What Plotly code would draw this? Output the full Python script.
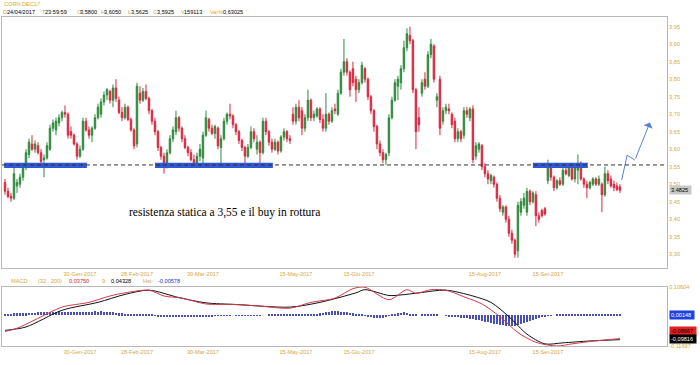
import plotly.graph_objects as go

# ---------------- data ----------------
opens = [3.505,3.480,3.465,3.460,3.495,3.500,3.520,3.550,3.585,3.615,
         3.600,3.610,3.590,3.570,3.575,3.600,3.660,3.655,3.675,3.690,
         3.705,3.700,3.650,3.640,3.615,3.580,3.600,3.680,3.655,3.640,
         3.660,3.690,3.700,3.735,3.755,3.765,3.740,3.775,3.740,3.705,
         3.690,3.720,3.685,3.655,3.615,3.760,3.740,3.765,3.745,3.710,
         3.680,3.650,3.605,3.580,3.560,3.590,3.630,3.650,3.690,3.660,
         3.630,3.605,3.590,3.570,3.560,3.580,3.575,3.640,3.685,3.660,
         3.645,3.660,3.605,3.630,3.680,3.700,3.695,3.670,3.650,3.625,
         3.605,3.580,3.605,3.650,3.600,3.620,3.590,3.680,3.650,3.620,
         3.600,3.620,3.595,3.635,3.650,3.630,3.700,3.680,3.720,3.710,
         3.660,3.690,3.740,3.690,3.695,3.715,3.685,3.660,3.700,3.680,
         3.715,3.700,3.760,3.820,3.850,3.820,3.830,3.800,3.770,3.790,
         3.830,3.800,3.750,3.710,3.665,3.615,3.590,3.570,3.590,3.690,
         3.740,3.780,3.790,3.830,3.890,3.925,3.910,3.770,3.690,3.760,
         3.800,3.780,3.870,3.895,3.740,3.800,3.680,3.710,3.715,3.700,
         3.680,3.630,3.650,3.640,3.710,3.690,3.715,3.580,3.600,3.610,
         3.550,3.530,3.510,3.520,3.500,3.460,3.420,3.435,3.400,3.360,
         3.340,3.310,3.420,3.440,3.420,3.480,3.450,3.470,3.410,3.425,
         3.430,3.510,3.550,3.520,3.490,3.510,3.500,3.540,3.525,3.545,
         3.515,3.540,3.560,3.515,3.500,3.490,3.500,3.515,3.500,3.500,
         3.470,3.530,3.515,3.500,3.495,3.4925]
highs = [3.515,3.490,3.475,3.550,3.515,3.530,3.560,3.600,3.630,3.640,
         3.625,3.620,3.600,3.585,3.620,3.670,3.685,3.690,3.700,3.710,
         3.725,3.705,3.665,3.645,3.620,3.610,3.690,3.690,3.665,3.665,
         3.700,3.730,3.745,3.765,3.775,3.770,3.785,3.800,3.750,3.720,
         3.730,3.725,3.690,3.660,3.790,3.780,3.775,3.785,3.750,3.715,
         3.690,3.655,3.610,3.590,3.600,3.640,3.665,3.710,3.695,3.665,
         3.640,3.610,3.600,3.585,3.590,3.615,3.650,3.710,3.690,3.670,
         3.670,3.665,3.640,3.690,3.705,3.730,3.700,3.675,3.655,3.630,
         3.610,3.615,3.665,3.660,3.640,3.625,3.690,3.690,3.655,3.630,
         3.630,3.625,3.640,3.660,3.655,3.640,3.720,3.730,3.740,3.720,
         3.700,3.770,3.745,3.710,3.720,3.720,3.700,3.760,3.705,3.720,
         3.730,3.770,3.830,3.915,3.860,3.825,3.850,3.810,3.800,3.850,
         3.835,3.805,3.755,3.715,3.670,3.625,3.600,3.590,3.700,3.750,
         3.800,3.810,3.840,3.910,3.945,3.950,3.915,3.775,3.720,3.800,
         3.820,3.880,3.915,3.900,3.760,3.810,3.720,3.730,3.730,3.705,
         3.690,3.660,3.655,3.720,3.720,3.720,3.725,3.620,3.620,3.615,
         3.560,3.540,3.530,3.525,3.505,3.470,3.440,3.440,3.410,3.370,
         3.345,3.450,3.460,3.475,3.490,3.485,3.480,3.480,3.420,3.430,
         3.435,3.570,3.555,3.525,3.515,3.520,3.550,3.560,3.555,3.550,
         3.560,3.585,3.565,3.520,3.510,3.510,3.520,3.520,3.525,3.505,
         3.550,3.540,3.525,3.510,3.505,3.500]
lows = [3.470,3.460,3.450,3.455,3.475,3.490,3.510,3.540,3.575,3.595,
        3.590,3.585,3.555,3.520,3.570,3.595,3.650,3.640,3.665,3.680,
        3.690,3.630,3.630,3.610,3.570,3.575,3.595,3.650,3.630,3.620,
        3.655,3.685,3.690,3.725,3.740,3.730,3.720,3.735,3.700,3.680,
        3.685,3.680,3.650,3.600,3.605,3.730,3.735,3.740,3.700,3.670,
        3.640,3.595,3.570,3.530,3.545,3.585,3.620,3.640,3.650,3.620,
        3.600,3.580,3.565,3.550,3.555,3.565,3.560,3.635,3.650,3.640,
        3.630,3.600,3.560,3.625,3.670,3.685,3.660,3.640,3.615,3.595,
        3.550,3.575,3.600,3.620,3.585,3.555,3.585,3.640,3.610,3.590,
        3.595,3.585,3.590,3.625,3.620,3.615,3.670,3.670,3.680,3.640,
        3.650,3.680,3.680,3.680,3.690,3.675,3.650,3.650,3.670,3.675,
        3.700,3.695,3.755,3.810,3.810,3.750,3.780,3.735,3.760,3.785,
        3.790,3.740,3.700,3.650,3.600,3.580,3.560,3.555,3.580,3.685,
        3.735,3.740,3.770,3.820,3.880,3.900,3.760,3.600,3.650,3.750,
        3.770,3.775,3.860,3.790,3.720,3.640,3.670,3.700,3.700,3.660,
        3.620,3.620,3.620,3.630,3.690,3.680,3.560,3.570,3.590,3.540,
        3.520,3.500,3.500,3.490,3.450,3.420,3.410,3.390,3.350,3.330,
        3.290,3.290,3.410,3.430,3.410,3.440,3.445,3.380,3.390,3.405,
        3.410,3.500,3.510,3.480,3.485,3.495,3.495,3.525,3.520,3.510,
        3.505,3.500,3.510,3.490,3.460,3.485,3.495,3.495,3.495,3.420,
        3.465,3.500,3.490,3.480,3.480,3.475]
closes = [3.480,3.465,3.460,3.530,3.505,3.520,3.550,3.590,3.620,3.600,
          3.615,3.590,3.565,3.575,3.610,3.660,3.675,3.680,3.690,3.705,
          3.700,3.640,3.640,3.615,3.580,3.600,3.680,3.655,3.640,3.660,
          3.690,3.720,3.735,3.755,3.770,3.740,3.775,3.745,3.705,3.690,
          3.720,3.685,3.655,3.610,3.780,3.740,3.765,3.745,3.710,3.680,
          3.650,3.605,3.580,3.560,3.590,3.630,3.655,3.690,3.660,3.630,
          3.605,3.590,3.570,3.560,3.580,3.600,3.640,3.690,3.660,3.645,
          3.665,3.610,3.630,3.680,3.700,3.695,3.670,3.650,3.625,3.605,
          3.580,3.605,3.650,3.630,3.620,3.590,3.680,3.650,3.620,3.600,
          3.620,3.595,3.635,3.650,3.630,3.625,3.680,3.720,3.690,3.660,
          3.690,3.740,3.690,3.700,3.715,3.685,3.660,3.700,3.680,3.710,
          3.710,3.760,3.820,3.850,3.820,3.770,3.790,3.770,3.790,3.840,
          3.800,3.750,3.710,3.665,3.615,3.590,3.570,3.585,3.690,3.740,
          3.790,3.800,3.830,3.890,3.930,3.910,3.770,3.650,3.670,3.790,
          3.780,3.870,3.900,3.800,3.750,3.660,3.710,3.720,3.710,3.670,
          3.630,3.650,3.630,3.710,3.700,3.715,3.570,3.610,3.615,3.550,
          3.530,3.515,3.525,3.500,3.460,3.430,3.435,3.400,3.360,3.340,
          3.300,3.440,3.450,3.460,3.480,3.450,3.475,3.410,3.400,3.410,
          3.415,3.555,3.520,3.490,3.510,3.500,3.540,3.530,3.550,3.515,
          3.555,3.560,3.515,3.500,3.490,3.505,3.515,3.500,3.515,3.470,
          3.530,3.510,3.495,3.490,3.485,3.4825]

date_tick_pos = [25, 44, 66, 97, 118, 160, 181]
date_tick_labels = ["30-Gen-2017", "28-Feb-2017", "30-Mar-2017", "15-May-2017",
                    "15-Giu-2017", "15-Aug-2017", "15-Set-2017"]
price_ticks = [3.30, 3.35, 3.40, 3.45, 3.50, 3.55, 3.60, 3.65, 3.70, 3.75, 3.80, 3.85, 3.90, 3.95]
price_tick_labels = ["3,30", "3,35", "3,40", "3,45", "3,50", "3,55", "3,60", "3,65",
                     "3,70", "3,75", "3,80", "3,85", "3,90", "3,95"]

resistance_level = 3.555
support_zones = [(-0.3, 27.3), (50.0, 89.3), (176.0, 194.3)]   # bar index spans
arrow_idx = [205.6, 207.4, 210.0, 215.0]
arrow_price = [3.512, 3.583, 3.569, 3.676]

macd_idx = [0,4,10,19,28,35,40,48,53,59,67,76,85,95,102,110,116,120,128,134,137,142,147,153,159,165,171,177,184,189,195,205]
macd_val = [-0.062,-0.050,-0.018,0.030,0.048,0.072,0.084,0.094,0.072,0.064,0.042,0.040,0.034,0.026,0.048,0.064,
            0.100,0.105,0.058,0.096,0.082,0.096,0.094,0.069,0.042,-0.006,-0.066,-0.103,-0.117,-0.109,-0.100,-0.089]
signal_idx = [0,7,19,31,40,48,58,67,77,95,105,117,120,128,132,138,147,156,162,168,174,180,186,195,205]
signal_val = [-0.058,-0.045,0.018,0.048,0.078,0.094,0.066,0.046,0.040,0.030,0.048,0.084,0.096,0.074,0.076,
              0.084,0.094,0.072,0.048,-0.006,-0.072,-0.109,-0.105,-0.098,-0.093]
hist_val = [0.004,0.005,0.005,0.006,0.006,0.007,0.006,0.007,0.008,0.008,
            0.009,0.010,0.010,0.011,0.012,0.012,0.013,0.013,0.014,0.013,
            0.012,0.012,0.011,0.012,0.011,0.012,0.012,0.013,0.012,0.013,
            0.014,0.013,0.014,0.013,0.012,0.011,0.010,0.009,0.007,0.006,
            0.005,0.004,0.004,0.003,0.003,0.002,0.001,0.001,0.002,0.001,
            -0.002,-0.004,-0.005,-0.006,-0.007,-0.008,-0.008,-0.009,-0.008,-0.009,
            -0.008,-0.008,-0.009,-0.008,-0.007,-0.007,-0.006,-0.006,-0.005,-0.004,
            -0.003,-0.003,-0.002,-0.003,-0.002,-0.001,0.000,-0.001,-0.002,-0.002,
            -0.003,-0.002,-0.003,-0.002,-0.001,-0.001,0.000,0.000,0.001,0.001,
            0.002,0.002,0.003,0.003,0.004,0.004,0.003,0.004,0.004,0.003,
            0.004,0.004,0.005,0.004,0.005,0.006,0.008,0.011,0.013,0.015,
            0.014,0.015,0.013,0.012,0.010,0.008,0.006,0.004,0.003,0.001,
            -0.002,-0.005,-0.008,-0.011,-0.013,-0.012,-0.010,-0.006,-0.002,0.001,
            0.003,0.006,0.009,0.010,0.008,0.005,0.002,0.001,0.000,0.001,
            0.002,0.001,0.002,0.001,0.001,0.000,0.000,-0.002,-0.004,-0.006,
            -0.008,-0.009,-0.011,-0.012,-0.013,-0.014,-0.016,-0.018,-0.020,-0.022,
            -0.025,-0.027,-0.030,-0.032,-0.035,-0.037,-0.039,-0.040,-0.042,-0.041,
            -0.040,-0.038,-0.035,-0.031,-0.027,-0.023,-0.019,-0.015,-0.011,-0.008,
            -0.005,-0.003,-0.001,0.000,0.001,0.002,0.002,0.003,0.003,0.003,
            0.004,0.003,0.004,0.004,0.003,0.003,0.002,0.003,0.002,0.002,
            0.002,0.001,0.002,0.001,0.002,0.001]
macd_range = [-0.11697, 0.10604]
macd_tick_labels = ["-0,11697", "0,10604"]

# ---------------- styling ----------------
W, H = 700, 365
GOLD = "#d6a83a"
GREEN = "#2f8a3c"
RED = "#d7283f"
HBLUE = "#4a4fb4"
ARROW = "#5b7fd6"
FRAME = "#b8b8b8"
FONT = "Liberation Sans"
FS = 5.6

def xp(px):
    return px / W

def yp(px):
    return 1 - px / H

idx = list(range(len(closes)))
x_range = [-1.0, 220.7]

fig = go.Figure()
fig.add_trace(go.Candlestick(
    x=idx, open=opens, high=highs, low=lows, close=closes,
    increasing=dict(line=dict(color=GREEN, width=1), fillcolor=GREEN),
    decreasing=dict(line=dict(color=RED, width=1), fillcolor=RED),
    whiskerwidth=0, showlegend=False, hoverinfo="skip",
    xaxis="x", yaxis="y"))

fig.add_trace(go.Scatter(x=arrow_idx[:-1], y=arrow_price[:-1], mode="lines",
                         line=dict(color=ARROW, width=1), showlegend=False,
                         hoverinfo="skip", xaxis="x", yaxis="y"))

fig.add_trace(go.Bar(x=list(range(len(hist_val))), y=hist_val, width=0.3,
                     marker=dict(color=HBLUE, line=dict(width=0)),
                     showlegend=False, hoverinfo="skip", xaxis="x2", yaxis="y2"))
fig.add_trace(go.Scatter(x=signal_idx, y=signal_val, mode="lines",
                         line=dict(color="#111111", width=1, shape="spline", smoothing=0.8),
                         showlegend=False, hoverinfo="skip", xaxis="x2", yaxis="y2"))
fig.add_trace(go.Scatter(x=macd_idx, y=macd_val, mode="lines",
                         line=dict(color="#d23a4a", width=1, shape="spline", smoothing=0.8),
                         showlegend=False, hoverinfo="skip", xaxis="x2", yaxis="y2"))

shapes = []
for x0, x1 in support_zones:
    shapes.append(dict(type="rect", xref="x", yref="y", x0=x0, x1=x1,
                       y0=resistance_level - 0.0085, y1=resistance_level + 0.0065,
                       fillcolor="#2f57d6", line=dict(width=0), layer="above"))
shapes.append(dict(type="line", xref="paper", yref="y", x0=xp(2), x1=xp(667),
                   y0=resistance_level, y1=resistance_level,
                   line=dict(color="#333333", width=1, dash="4px,3px")))

annotations = []
annotations.append(dict(x=arrow_idx[-1], y=arrow_price[-1], ax=arrow_idx[-2], ay=arrow_price[-2],
                        xref="x", yref="y", axref="x", ayref="y", text="", showarrow=True,
                        arrowhead=1, arrowsize=1.6, arrowwidth=1, arrowcolor=ARROW))
annotations.append(dict(x=73.3, y=3.418, xref="x", yref="y", showarrow=False,
                        text="resistenza statica a 3,55 e il buy in rottura",
                        font=dict(family="Liberation Serif", size=11.5, color="#000000")))
annotations.append(dict(x=xp(2), y=yp(4), xref="paper", yref="paper", xanchor="left",
                        yanchor="middle", showarrow=False, text="CORN DEC17",
                        font=dict(family=FONT, size=FS, color=GOLD)))
hdr = [("D", GOLD, 1), ("24/04/2017", "#000", 4.5), ("T", GOLD, 40), ("23:59:59", "#000", 42.5),
       ("O", GOLD, 74.5), ("3,5800", "#000", 77.5), ("H", GOLD, 98.5), ("3,6050", "#000", 102),
       ("L", GOLD, 125.5), ("3,5625", "#000", 128.5), ("C", GOLD, 151), ("3,5925", "#000", 154.5),
       ("V", GOLD, 178.5), ("159113", "#000", 182), ("Var%", GOLD, 207.5), ("0,63025", "#000", 221)]
for t, c, px in hdr:
    annotations.append(dict(x=xp(px), y=yp(12), xref="paper", yref="paper", xanchor="left",
                            yanchor="middle", showarrow=False, text=t,
                            font=dict(family=FONT, size=FS, color=c)))
mh = [("MACD", GOLD, 9), ("(32 , 200)", GOLD, 36), ("0,03750", "#c8283a", 67), ("9:", GOLD, 100),
      ("0,04328", "#000", 109), ("Hst:", GOLD, 141), ("-0,00578", "#2030c0", 156)]
for t, c, px in mh:
    annotations.append(dict(x=xp(px), y=yp(281), xref="paper", yref="paper", xanchor="left",
                            yanchor="middle", showarrow=False, text=t,
                            font=dict(family=FONT, size=FS, color=c)))
annotations.append(dict(x=xp(669), y=closes[-1], xref="paper", yref="y", xanchor="left",
                        yanchor="middle", showarrow=False, text="3.4825 ", bgcolor="#c8c8c8",
                        borderpad=1, font=dict(family=FONT, size=FS, color="#000")))
for txt, val, bg, fc in [("0,00148", 0.0005, "#1f3fe0", "#ffffff"),
                         ("-0,08667", -0.0620, "#e52020", "#000000"),
                         ("-0,09816", -0.0920, "#000000", "#ffffff")]:
    annotations.append(dict(x=xp(669), y=val, xref="paper", yref="y2", xanchor="left",
                            yanchor="middle", showarrow=False, text=txt + " ", bgcolor=bg,
                            borderpad=1, font=dict(family=FONT, size=FS, color=fc)))

axis_font = dict(family=FONT, size=FS, color=GOLD)
common = dict(showgrid=False, zeroline=False, showline=True, mirror=True,
              linecolor=FRAME, linewidth=1, ticks="", automargin=False, tickfont=axis_font)
fig.update_layout(
    template="none",
    width=W, height=H, margin=dict(l=0, r=0, t=0, b=0, pad=0), autosize=False,
    paper_bgcolor="white", plot_bgcolor="white", showlegend=False, bargap=0,
    xaxis=dict(domain=[xp(2), xp(667)], range=x_range, anchor="y",
               rangeslider=dict(visible=False), tickmode="array",
               tickvals=date_tick_pos, ticktext=date_tick_labels, **common),
    yaxis=dict(domain=[yp(268), yp(17)], range=[3.2606, 3.9777], side="right",
               tickmode="array", tickvals=price_ticks, ticktext=price_tick_labels, **common),
    xaxis2=dict(domain=[xp(2), xp(667)], range=x_range, anchor="y2", matches="x",
                tickmode="array", tickvals=date_tick_pos, ticktext=date_tick_labels, **common),
    yaxis2=dict(domain=[yp(346), yp(287)], range=macd_range, side="right",
                tickmode="array", tickvals=macd_range, ticktext=macd_tick_labels, **common),
    shapes=shapes, annotations=annotations,
)

fig.write_html("out.html", config={"responsive": False, "displayModeBar": False},
               default_width="700px", default_height="365px",
               post_script="document.body.style.margin='0px';document.body.style.overflow='hidden';")
